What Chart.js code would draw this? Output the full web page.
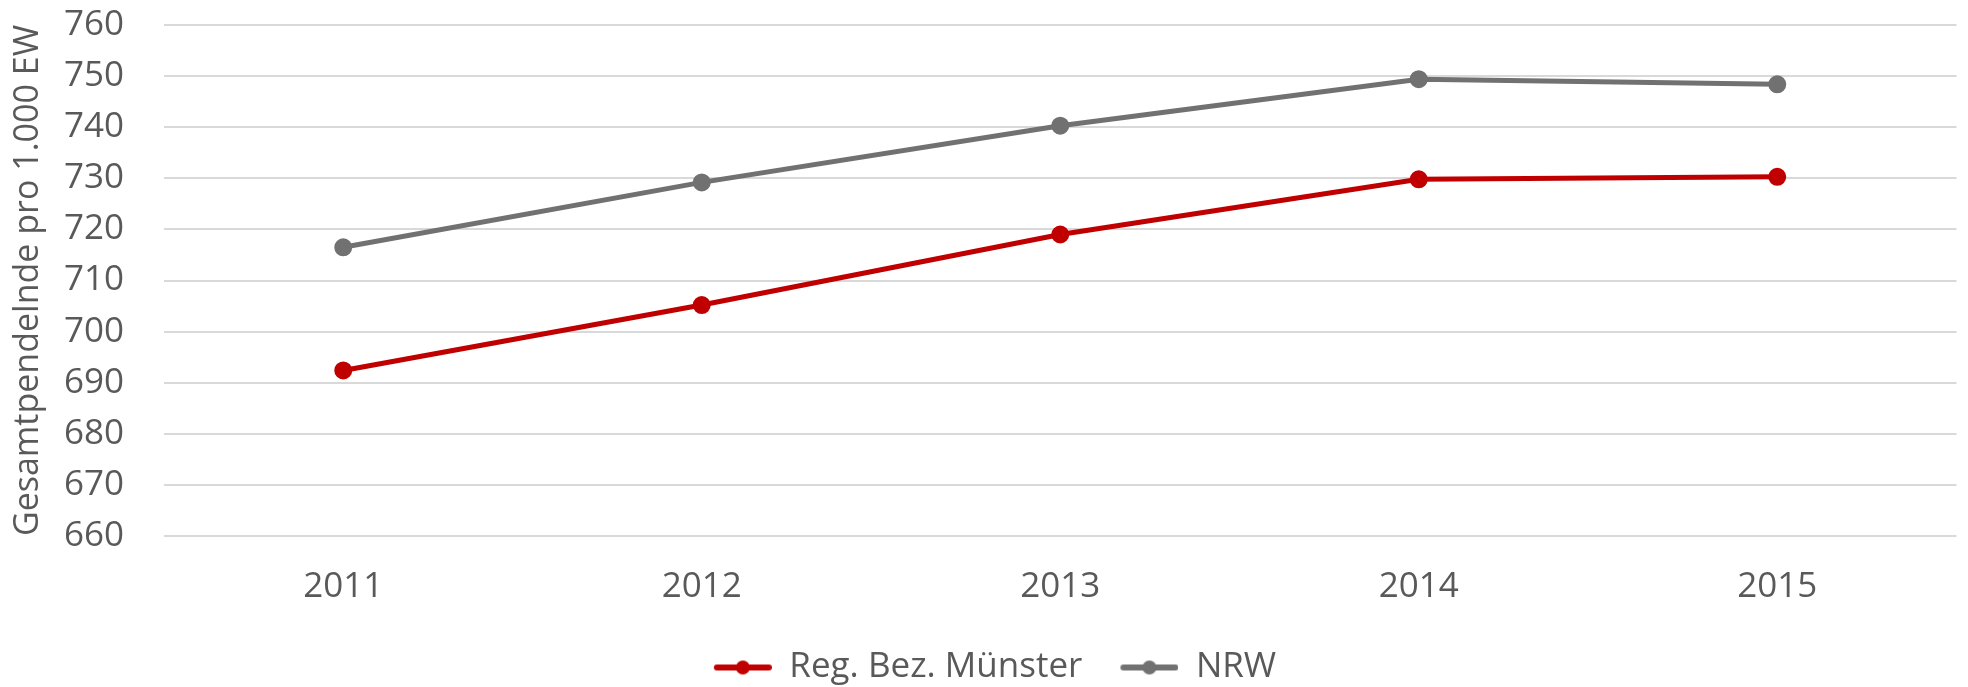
<!DOCTYPE html>
<html>
<head>
<meta charset="utf-8">
<script src="https://cdn.jsdelivr.net/npm/chart.js@4"></script>
<style>
  html, body { margin: 0; padding: 0; background: #fff; }
  #wrap { width: 1968px; height: 687px; position: relative; }
</style>
</head>
<body>
<div id="wrap"><canvas id="line-chart"></canvas></div>
<script>
const years = ["2011", "2012", "2013", "2014", "2015"];
const muenster = [692.4, 705.2, 719.0, 729.8, 730.3];
const nrw = [716.5, 729.2, 740.3, 749.4, 748.4];
const seriesNames = ["Reg. Bez. Münster", "NRW"];
const yTitle = "Gesamtpendelnde pro 1.000 EW";

const red = "#C00000";
const grey = "#717171";
const textColor = "#595959";
const font = "'Open Sans', sans-serif";

// line+dot marker for the legend, blank room on the left acts as item spacing
function legendMarker(color) {
  const c = document.createElement("canvas");
  c.width = 84; c.height = 16;
  const ctx = c.getContext("2d");
  ctx.strokeStyle = color;
  ctx.lineWidth = 6;
  ctx.lineCap = "round";
  ctx.beginPath(); ctx.moveTo(29, 8); ctx.lineTo(81, 8); ctx.stroke();
  ctx.fillStyle = color;
  ctx.beginPath(); ctx.arc(55, 8, 7, 0, Math.PI * 2); ctx.fill();
  return c;
}

new Chart(document.getElementById("line-chart"), {
  type: 'line',
  data: {
    labels: years,
    datasets: [{
      label: seriesNames[0],
      data: muenster,
      borderColor: red,
      backgroundColor: red,
      borderWidth: 5,
      pointRadius: 6.5,
      pointHoverRadius: 6.5,
      tension: 0
    }, {
      label: seriesNames[1],
      data: nrw,
      borderColor: grey,
      backgroundColor: grey,
      borderWidth: 5,
      pointRadius: 6.5,
      pointHoverRadius: 6.5,
      tension: 0
    }]
  },
  options: {
    responsive: true,
    maintainAspectRatio: false,
    animation: false,
    layout: { padding: { top: 0, right: 4, left: 0, bottom: -8 } },
    plugins: {
      tooltip: { enabled: false },
      legend: {
        position: 'bottom',
        labels: {
          color: textColor,
          font: { family: font, size: 35 },
          usePointStyle: true,
          pointStyleWidth: 84,
          padding: 12,
          generateLabels(chart) {
            return chart.data.datasets.map((ds, i) => ({
              text: ds.label,
              fontColor: textColor,
              pointStyle: legendMarker(ds.borderColor),
              datasetIndex: i,
              hidden: false,
              lineWidth: 0,
              strokeStyle: 'transparent',
              fillStyle: 'transparent'
            }));
          }
        }
      }
    },
    scales: {
      x: {
        offset: true,
        grid: { display: false, drawTicks: false },
        border: { display: false },
        ticks: { color: textColor, font: { family: font, size: 35 }, padding: 30, autoSkip: false, maxRotation: 0 }
      },
      y: {
        min: 660,
        max: 760,
        afterFit(scale) {
          scale.width = 164;
          scale.paddingTop = 25;
        },
        grid: { color: "#D9D9D9", lineWidth: 2, drawTicks: false },
        border: { display: false },
        ticks: {
          stepSize: 10,
          autoSkip: false,
          color: textColor,
          font: { family: font, size: 35 },
          padding: 40
        },
        title: {
          display: true,
          text: yTitle,
          color: textColor,
          font: { family: font, size: 34 },
          padding: { top: 8, bottom: 0 }
        }
      }
    }
  }
});
</script>
</body>
</html>
